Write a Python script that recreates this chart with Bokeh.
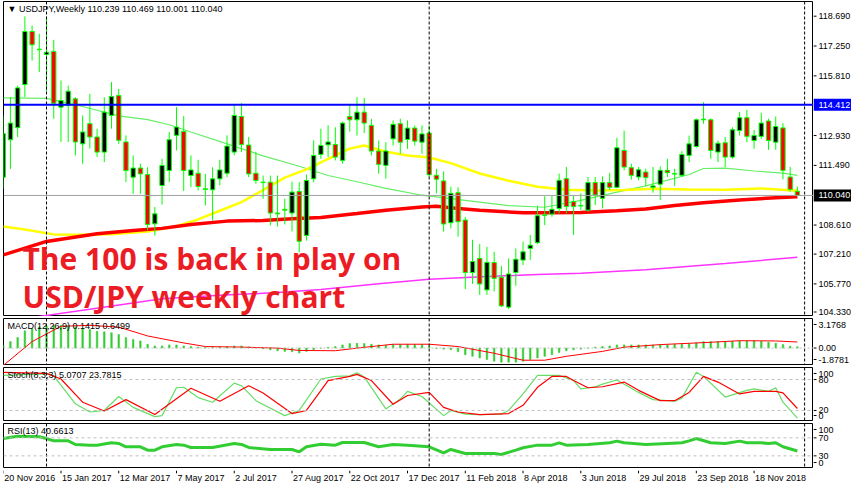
from bokeh.plotting import figure
from bokeh.layouts import column, row
from bokeh.models import Range1d, Span, Label, ColumnDataSource
from bokeh.embed import file_html
from bokeh.resources import INLINE
from bokeh.core.properties import value

# ---------------- data (weekly USDJPY, bar 0 = week of 20 Nov 2016) ----------------
opens = [110.92, 112.73, 113.31, 115.39, 117.95, 117.10, 116.84, 116.99, 114.30, 114.38,
         114.70, 112.53, 113.50, 112.86, 112.13, 113.90, 114.86, 112.62, 110.92, 111.36,
         111.05, 108.67, 110.52, 111.24, 112.94, 113.13, 111.00, 111.11, 110.36, 110.31,
         110.84, 111.11, 112.13, 113.85, 112.47, 111.11, 110.68, 110.68, 109.19, 109.37,
         109.19, 110.23, 108.11, 110.84, 112.02, 112.48, 112.50, 111.73, 113.85, 113.69,
         114.06, 113.42, 112.18, 111.49, 112.77, 113.50, 112.74, 113.29, 112.61, 113.05,
         111.01, 110.74, 108.72, 110.17, 108.85, 106.32, 107.00, 105.48, 106.80, 106.09,
         104.65, 106.32, 106.92, 107.48, 107.76, 109.08, 109.14, 109.41, 110.85, 109.74,
         109.53, 109.33, 110.66, 109.90, 110.66, 110.43, 112.21, 111.38, 110.93, 111.17,
         110.43, 110.58, 111.25, 111.07, 111.01, 111.97, 112.40, 113.69, 113.69, 112.13,
         112.58, 111.89, 113.17, 113.79, 112.69, 112.89, 113.63, 112.61, 113.30, 110.93,
         110.239]
highs = [113.90, 114.78, 115.34, 118.68, 118.24, 117.84, 118.68, 117.55, 115.59, 115.34,
         114.78, 113.90, 114.94, 113.26, 114.78, 115.51, 115.19, 112.94, 111.97, 111.57,
         111.40, 109.48, 111.81, 113.10, 114.30, 113.87, 111.97, 111.76, 111.08, 111.40,
         111.76, 112.94, 114.46, 114.49, 112.86, 112.15, 111.00, 111.00, 111.00, 109.88,
         110.70, 110.68, 111.05, 112.70, 113.26, 113.42, 113.33, 113.60, 114.46, 114.78,
         114.75, 113.74, 112.69, 112.61, 113.66, 113.74, 113.66, 113.42, 113.42, 113.42,
         111.33, 111.20, 110.46, 110.43, 109.00, 107.90, 107.69, 107.56, 107.32, 106.64,
         107.00, 107.48, 107.81, 108.13, 109.55, 110.00, 110.06, 111.09, 111.41, 110.06,
         110.14, 110.93, 110.93, 110.96, 111.13, 112.82, 113.17, 111.57, 111.41, 111.33,
         111.41, 111.44, 111.81, 111.33, 112.18, 112.93, 113.75, 114.54, 113.75, 112.69,
         112.85, 113.33, 114.06, 114.17, 113.20, 114.03, 113.74, 113.85, 113.53, 111.41,
         110.469]
lows = [110.36, 111.32, 112.86, 114.78, 116.55, 115.99, 115.07, 113.74, 112.62, 112.62,
        111.97, 111.57, 112.30, 111.90, 111.65, 113.26, 112.53, 110.68, 110.12, 110.12,
        108.35, 108.11, 109.60, 110.68, 112.21, 110.25, 110.44, 110.28, 109.56, 108.83,
        110.52, 110.92, 111.97, 112.13, 110.92, 110.60, 109.88, 108.59, 108.54, 108.64,
        108.30, 107.30, 107.86, 110.68, 111.81, 111.89, 111.73, 111.57, 113.12, 112.93,
        113.05, 111.97, 111.09, 110.85, 112.45, 112.05, 112.29, 112.45, 112.05, 110.93,
        110.14, 108.29, 108.45, 108.05, 105.52, 105.77, 105.24, 105.24, 105.40, 104.65,
        104.56, 105.68, 106.68, 106.92, 107.69, 108.61, 109.01, 109.17, 109.17, 108.13,
        109.33, 109.25, 109.58, 109.41, 110.30, 110.38, 111.25, 110.80, 110.77, 110.50,
        110.17, 109.82, 110.93, 110.50, 110.93, 111.65, 112.34, 113.50, 111.81, 111.65,
        111.41, 111.81, 112.93, 112.61, 112.29, 112.77, 112.24, 112.24, 110.82, 110.22,
        110.001]
closes = [113.02, 113.53, 115.23, 117.95, 117.31, 117.07, 116.95, 114.49, 114.62, 115.07,
          112.62, 113.10, 112.86, 112.13, 114.06, 114.81, 112.70, 111.24, 111.36, 111.08,
          108.64, 109.15, 111.49, 112.73, 113.34, 111.24, 111.27, 110.47, 110.33, 110.84,
          111.27, 112.42, 113.90, 112.50, 111.08, 110.76, 110.66, 109.19, 109.15, 109.33,
          110.20, 107.83, 110.76, 111.97, 112.45, 112.62, 111.89, 113.53, 113.69, 114.06,
          113.53, 112.18, 111.54, 112.18, 113.47, 112.61, 113.29, 112.66, 113.01, 111.04,
          110.82, 108.66, 110.14, 108.77, 106.32, 106.85, 105.77, 106.81, 106.04, 104.71,
          106.25, 106.96, 107.32, 107.64, 109.06, 109.10, 109.37, 110.77, 109.50, 109.50,
          109.55, 110.66, 110.06, 110.66, 110.43, 112.34, 111.41, 111.01, 111.28, 110.90,
          110.50, 111.25, 111.14, 111.09, 112.02, 112.53, 113.69, 113.72, 112.21, 112.56,
          111.89, 113.21, 113.79, 112.89, 112.93, 113.53, 112.69, 113.37, 111.25, 110.33,
          110.040]

# moving averages read at selected bars
ma_yellow_idx = [0, 3, 7, 11, 15, 20, 24, 27, 30, 33, 36, 39, 42, 45, 48, 50, 53, 56, 59, 62,
                 66, 70, 74, 78, 82, 86, 90, 95, 100, 105, 110]
ma_yellow = [108.54, 108.40, 108.16, 108.14, 108.17, 108.30, 108.55, 108.88, 109.30, 109.72,
             110.30, 110.90, 111.30, 111.80, 112.30, 112.45, 112.15, 111.97, 111.87, 111.60,
             111.10, 110.75, 110.46, 110.31, 110.28, 110.30, 110.36, 110.33, 110.31, 110.38, 110.27]
ma_green_idx = [0, 6, 11, 16, 20, 23, 26, 31, 36, 41, 45, 49, 53, 58, 64, 70, 75, 80, 85, 89,
                91, 95, 97, 100, 104, 108, 110]
ma_green = [114.75, 114.72, 114.33, 113.88, 113.70, 113.45, 113.10, 112.53, 111.95, 111.45,
            111.00, 110.70, 110.38, 110.05, 109.80, 109.55, 109.47, 109.80, 110.20, 110.50,
            110.68, 111.05, 111.34, 111.36, 111.22, 111.12, 111.01]
ma_red_idx = [0, 6, 13, 18, 22, 26, 31, 36, 40, 44, 49, 53, 58, 60, 63, 66, 72, 75, 80, 85,
              89, 93, 97, 102, 107, 110]
ma_red = [107.17, 107.82, 108.19, 108.35, 108.45, 108.64, 108.80, 108.83, 108.91, 108.98,
          109.17, 109.33, 109.48, 109.52, 109.41, 109.33, 109.20, 109.20, 109.22, 109.30,
          109.38, 109.55, 109.69, 109.82, 109.93, 109.98]
ma_magenta_idx = [0, 5, 12, 22, 30, 38, 44, 52, 59, 67, 74, 80, 89, 100, 110]
ma_magenta = [103.95, 104.20, 104.55, 105.05, 105.22, 105.35, 105.50, 105.78, 106.00, 106.13,
              106.22, 106.29, 106.45, 106.75, 107.06]

macd_hist = [0.34, 0.69, 1.14, 1.85, 2.09, 2.27, 2.37, 2.44, 2.44, 2.41,
             2.27, 2.09, 1.99, 1.81, 1.74, 1.64, 1.46, 1.14, 0.93, 0.76,
             0.41, 0.23, 0.23, 0.34, 0.34, 0.23, 0.16, 0.09, 0.06, 0.09,
             0.13, 0.16, 0.23, 0.23, 0.13, 0.02, -0.08, -0.19, -0.29, -0.36,
             -0.40, -0.54, -0.36, -0.19, -0.01, 0.09, 0.16, 0.34, 0.48, 0.51,
             0.48, 0.41, 0.34, 0.30, 0.37, 0.37, 0.41, 0.37, 0.37, 0.23,
             -0.05, -0.12, -0.19, -0.40, -0.72, -0.89, -1.07, -1.24, -1.42, -1.52,
             -1.52, -1.52, -1.42, -1.24, -1.07, -0.89, -0.72, -0.47, -0.29, -0.19,
             -0.12, -0.01, 0.09, 0.16, 0.23, 0.34, 0.34, 0.34, 0.34, 0.34,
             0.34, 0.34, 0.34, 0.41, 0.41, 0.48, 0.58, 0.69, 0.69, 0.69,
             0.69, 0.72, 0.76, 0.76, 0.79, 0.72, 0.62, 0.51, 0.37, 0.20,
             0.14]
macd_sig_idx = [0, 4, 8, 12, 16, 20, 25, 28, 33, 38, 41, 46, 49, 54, 59, 63, 68, 72, 75, 78,
                83, 86, 91, 95, 98, 102, 107, 110]
macd_sig = [-1.88, 0.69, 2.34, 2.44, 2.25, 1.30, 0.55, 0.16, 0.10, -0.01, -0.26, -0.29, -0.01,
            0.41, 0.41, 0.16, -0.56, -1.31, -1.31, -0.89, -0.36, 0.09, 0.37, 0.51, 0.62, 0.79,
            0.76, 0.65]
macd_min, macd_max = -1.8781, 3.1768

stoch_k_idx = [0, 6, 7, 10, 12, 14, 16, 18, 21, 22, 24, 25, 27, 29, 32, 33, 35, 39, 41, 44,
               46, 48, 49, 50, 53, 55, 56, 58, 61, 62, 64, 66, 69, 70, 72, 74, 75, 77, 79, 80,
               82, 83, 85, 88, 90, 93, 94, 96, 97, 100, 103, 104, 106, 107, 108, 110]
stoch_k = [88, 91, 87, 33, 17, 20, 47, 26, 8, 10, 64, 65, 45, 36, 73, 68, 39, 10, 20, 81,
           86, 87, 93, 85, 23, 42, 57, 47, 10, 20, 13, 12, 13, 20, 52, 88, 88, 88, 78, 62,
           66, 71, 79, 55, 41, 38, 44, 94, 86, 46, 59, 62, 57, 64, 36, 5.07]
stoch_d_idx = [0, 6, 8, 11, 14, 17, 21, 26, 30, 34, 36, 40, 42, 45, 48, 49, 51, 54, 56, 59,
               61, 63, 66, 70, 72, 74, 76, 78, 79, 81, 83, 86, 88, 91, 93, 95, 97, 99, 102, 104,
               107, 108, 110]
stoch_d = [94, 92, 81, 36, 19, 41, 12, 63, 38, 68, 54, 14, 20, 78, 86, 90, 78, 32, 49, 55,
           26, 17, 12, 14, 30, 65, 86, 86, 78, 64, 66, 75, 59, 39, 39, 55, 86, 75, 52, 57,
           57, 54, 23.78]

rsi_idx = [0, 2, 5, 6, 7, 9, 10, 12, 13, 15, 16, 17, 19, 20, 21, 22, 24, 25, 26, 29,
           32, 33, 34, 37, 40, 41, 42, 44, 46, 47, 50, 52, 54, 56, 59, 61, 62, 64, 68, 69,
           71, 72, 74, 76, 77, 78, 81, 84, 85, 86, 89, 92, 94, 95, 96, 98, 100, 102, 103, 105,
           106, 107, 108, 110]
rsi = [68.6, 73.8, 72.3, 68.6, 63.4, 63.4, 55.3, 53.8, 53.8, 59.0, 57.5, 50.1, 50.1, 42.7,
       42.7, 50.1, 55.3, 53.8, 48.6, 48.6, 57.5, 55.3, 48.6, 44.2, 44.2, 39.0, 50.1, 56.0,
       53.8, 59.7, 59.7, 50.1, 55.3, 53.8, 50.1, 36.7, 44.2, 35.3, 35.3, 33.0, 42.7, 47.9,
       53.8, 53.8, 59.0, 53.8, 55.3, 59.0, 62.7, 59.0, 55.3, 57.5, 59.0, 63.4, 68.6, 59.0,
       57.5, 62.7, 59.0, 59.0, 57.5, 59.0, 50.1, 40.66]

date_tick_idx = [0, 8, 16, 24, 32, 40, 48, 56, 64, 72, 80, 88, 96, 104]
date_tick_labels = ["20 Nov 2016", "15 Jan 2017", "12 Mar 2017", "7 May 2017", "2 Jul 2017",
                    "27 Aug 2017", "22 Oct 2017", "17 Dec 2017", "11 Feb 2018", "8 Apr 2018",
                    "3 Jun 2018", "29 Jul 2018", "23 Sep 2018", "18 Nov 2018"]
year_sep_idx = [6, 59, 111]
price_ticks = [118.690, 117.250, 115.810, 112.930, 111.490, 108.610, 107.210, 105.770, 104.330]
price_tick_labels = ["118.690", "117.250", "115.810", "112.930", "111.490", "108.610",
                     "107.210", "105.770", "104.330"]
resistance = 114.412
last_price = 110.040
macd_ticks = [macd_max, 0.0, macd_min]
macd_tick_labels = ["3.1768", "0.00", "-1.8781"]
stoch_ticks = [100, 80, 20, 0]
rsi_ticks = [100, 70, 30, 0]

# ---------------- layout ----------------
FW, LW, LEFT = 810, 38, 3
H_MAIN, H_MACD, H_STO, H_RSI, H_AX = 315, 47, 54, 45, 14
FONT = "Liberation Sans"
FS = "9px"
xr = Range1d(0.04, 112.23)


def base_fig(fw, h, x_range, y_range, top=0, left=0):
    p = figure(frame_width=fw, frame_height=h, x_range=x_range, y_range=y_range,
               x_axis_location=None, y_axis_location=None, toolbar_location=None,
               tools="", output_backend="svg", min_border_left=left, min_border_right=0,
               min_border_top=top, min_border_bottom=0)
    p.grid.visible = False
    p.background_fill_color = "white"
    p.border_fill_color = "white"
    return p


def panel(h, lo, hi, top=0):
    p = base_fig(FW, h, xr, Range1d(lo, hi), top=top, left=LEFT)
    p.outline_line_color = "black"
    p.outline_line_alpha = 1.0
    for s in year_sep_idx:
        p.add_layout(Span(location=s, dimension="height", line_color="black",
                          line_width=1, line_dash="3 2"))
    return p


def label_column(p, h, ticks, labels, inset, boxes=(), top=0):
    lo, hi = p.y_range.start, p.y_range.end
    upp = (hi - lo) / h
    pos = [min(max(t, lo + inset * upp), hi - inset * upp) for t in ticks]
    q = base_fig(LW, h, Range1d(0, LW), p.y_range, top=top)
    q.outline_line_color = None
    n = len(ticks)
    q.segment(x0=[0] * n, x1=[3] * n, y0=pos, y1=pos, line_color="black", line_width=1)
    q.text(x=[5] * n, y=pos, text=labels, text_align="left", text_baseline="middle",
           text_font=value(FONT), text_font_size=FS, text_color="black")
    for val, lab, bg in boxes:
        q.rect(x=[LW / 2], y=[val], width=[LW], height=[12], height_units="screen",
               fill_color=bg, line_color=None)
        q.text(x=[5], y=[val], text=[lab], text_align="left", text_baseline="middle",
               text_font=value(FONT), text_font_size=FS, text_color="white")
    return q


def title_label(p, text):
    p.add_layout(Label(x=xr.start, y=p.y_range.end, x_offset=4, y_offset=-2, text=text,
                       text_baseline="top", text_align="left", text_font=FONT,
                       text_font_size=FS, text_color="black"))


# ---- main price panel ----
lo_m, hi_m = 104.197, 119.399
pm = panel(H_MAIN, lo_m, hi_m, top=1)
pm.add_layout(Span(location=resistance, dimension="width", line_color="#0000ff", line_width=2))
pm.add_layout(Span(location=last_price, dimension="width", line_color="#a0a0a0", line_width=1))

pm.line(ma_magenta_idx, ma_magenta, line_color="#ff33ff", line_width=1.5)
pm.line(ma_green_idx, ma_green, line_color="#66ee66", line_width=1.2)
pm.line(ma_yellow_idx, ma_yellow, line_color="#ffff00", line_width=2.5)
pm.line(ma_red_idx, ma_red, line_color="#ff0000", line_width=3.5)

idx = list(range(len(opens)))
src = ColumnDataSource(dict(
    x=idx, h=highs, l=lows,
    top=[max(o, c) for o, c in zip(opens, closes)],
    bot=[min(o, c) for o, c in zip(opens, closes)],
    fill=["black" if c >= o else "#ff0000" for o, c in zip(opens, closes)],
))
pm.segment(x0="x", y0="l", x1="x", y1="h", source=src, line_color="#00ff00", line_width=1)
pm.vbar(x="x", width=0.6, top="top", bottom="bot", source=src, fill_color="fill",
        line_color="#00ff00", line_width=1)

title_label(pm, "\u25BC USDJPY,Weekly  110.239 110.469 110.001 110.040")
pm.add_layout(Label(x=xr.start, y=lo_m, x_offset=19, y_offset=58,
                    text="The 100 is back in play on", text_font="Open Sans",
                    text_font_style="bold", text_font_size="30px", text_color="#ec1c24",
                    text_baseline="alphabetic"))
pm.add_layout(Label(x=xr.start, y=lo_m, x_offset=19, y_offset=20,
                    text="USD/JPY weekly chart", text_font="Open Sans",
                    text_font_style="bold", text_font_size="30px", text_color="#ec1c24",
                    text_baseline="alphabetic"))
lm = label_column(pm, H_MAIN, price_ticks, price_tick_labels, 4.5,
                  boxes=[(resistance, "%.3f" % resistance, "#0000ff"),
                         (last_price, "%.3f" % last_price, "black")], top=1)

# ---- MACD ----
pmacd = panel(H_MACD, macd_min, macd_max)
pmacd.add_layout(Span(location=0, dimension="width", line_color="#c0c0c0", line_dash="2 2"))
pmacd.vbar(x=idx, width=0.22, top=macd_hist, bottom=0, fill_color="#33cc33",
           line_color="#33cc33", line_width=0.5)
pmacd.line(macd_sig_idx, macd_sig, line_color="#ff0000", line_width=1)
title_label(pmacd, "MACD(12,26,9) 0.1415 0.6499")
lmacd = label_column(pmacd, H_MACD, macd_ticks, macd_tick_labels, 6)

# ---- Stochastic ----
psto = panel(H_STO, -1.4, 103.3)
for lv in (80, 20):
    psto.add_layout(Span(location=lv, dimension="width", line_color="#c0c0c0", line_dash="3 3"))
psto.line(stoch_k_idx, stoch_k, line_color="#66dd66", line_width=1.2)
psto.line(stoch_d_idx, stoch_d, line_color="#ff0000", line_width=1.2)
title_label(psto, "Stoch(8,3,3) 5.0707 23.7815")
lsto = label_column(psto, H_STO, stoch_ticks, [str(t) for t in stoch_ticks], 6)

# ---- RSI ----
prsi = panel(H_RSI, 1.9, 101.9)
for lv in (70, 30):
    prsi.add_layout(Span(location=lv, dimension="width", line_color="#c0c0c0", line_dash="3 3"))
prsi.line(rsi_idx, rsi, line_color="#32cd32", line_width=3)
title_label(prsi, "RSI(13) 40.6613")
lrsi = label_column(prsi, H_RSI, rsi_ticks, [str(t) for t in rsi_ticks], 6)

# ---- date strip ----
pax = base_fig(FW, H_AX, xr, Range1d(0, 1), left=LEFT)
pax.outline_line_color = None
pax.segment(x0=date_tick_idx, y0=[1.0] * len(date_tick_idx), x1=date_tick_idx,
            y1=[0.8] * len(date_tick_idx), line_color="black", line_width=1)
pax.text(x=date_tick_idx, y=[0.5] * len(date_tick_idx), text=date_tick_labels,
         text_align="left", text_baseline="middle", x_offset=1,
         text_font=value(FONT), text_font_size=FS, text_color="black")

layout = column(row(pm, lm), row(pmacd, lmacd), row(psto, lsto), row(prsi, lrsi), pax,
                spacing=2)
open("out.html", "w").write(file_html(layout, INLINE))
